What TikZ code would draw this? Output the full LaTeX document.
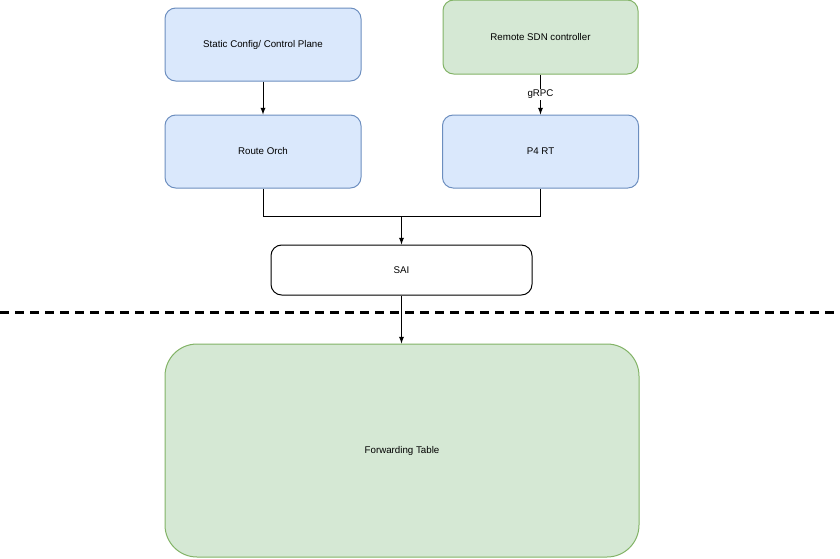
\documentclass[tikz,border=0pt]{standalone}
\usepackage{fontspec}
\setmainfont{Liberation Sans}
\usetikzlibrary{arrows.meta}

\definecolor{blueFill}{HTML}{DAE8FC}
\definecolor{blueLine}{HTML}{6C8EBF}
\definecolor{greenFill}{HTML}{D5E8D4}
\definecolor{greenLine}{HTML}{82B366}

\tikzset{
  blockblue/.style={draw=blueLine, fill=blueFill, rounded corners=8pt, line width=0.75pt,
    minimum width=147pt, minimum height=54.75pt},
  blockgreen/.style={draw=greenLine, fill=greenFill, rounded corners=8pt, line width=0.75pt,
    minimum width=146.25pt, minimum height=55.5pt},
  blockplain/.style={draw=black, fill=white, rounded corners=8pt, line width=0.75pt},
  link/.style={line width=0.75pt, black},
}

\begin{document}
\begin{tikzpicture}[x=0.75pt,y=0.75pt,yscale=-1,xscale=1, font=\fontsize{7.3}{8.5}\selectfont, >=latex]

\useasboundingbox (0, 0) rectangle (840, 558);

%%%%%%%%%%%%%%%%%%%%%%%%%%%%%%%%%%%%%%%%%%%%%%%%%%%%%%%%%%%%%%%%%%%%%%%%

\node [blockblue] (static) at (263, 44.5) {Static Config/ Control Plane};
\node [blockgreen] (remote) at (540.5, 37) {Remote SDN controller};

\node [blockblue] (route) at (263, 151.5) {Route Orch};
\node [blockblue] (p4) at (540.5, 151.5) {P4 RT};

\draw [link, ->] (static) -- (route);
\draw [link, ->] (remote) -- node [fill=white, inner sep=1pt] {gRPC} (p4);

%%%%%%%%%%%%%%%%%%%%%%%%%%%%%%%%%%%%%%%%%%%%%%%%%%%%%%%%%%%%%%%%%%%%%%%%

\node [blockplain, minimum width=195.75pt, minimum height=37.5pt] (sai) at (401.5, 270) {SAI};

\coordinate (merge) at (401.5, 216);
\draw [link] (route.south) |- (merge);
\draw [link] (p4.south) |- (merge);
\draw [link, ->] (merge) -- (sai.north);

%%%%%%%%%%%%%%%%%%%%%%%%%%%%%%%%%%%%%%%%%%%%%%%%%%%%%%%%%%%%%%%%%%%%%%%%

\draw [line width=2.25pt, dash pattern=on 6.75pt off 4.5pt, black] (0, 312) -- (834, 312);

\node [blockgreen, rounded corners=24pt, minimum width=355.5pt, minimum height=159.75pt] (fwd) at (402, 450.5) {Forwarding Table};

\draw [link, ->] (sai.south) -- (sai.south |- fwd.north);

%%%%%%%%%%%%%%%%%%%%%%%%%%%%%%%%%%%%%%%%%%%%%%%%%%%%%%%%%%%%%%%%%%%%%%%%

\end{tikzpicture}
\end{document}
